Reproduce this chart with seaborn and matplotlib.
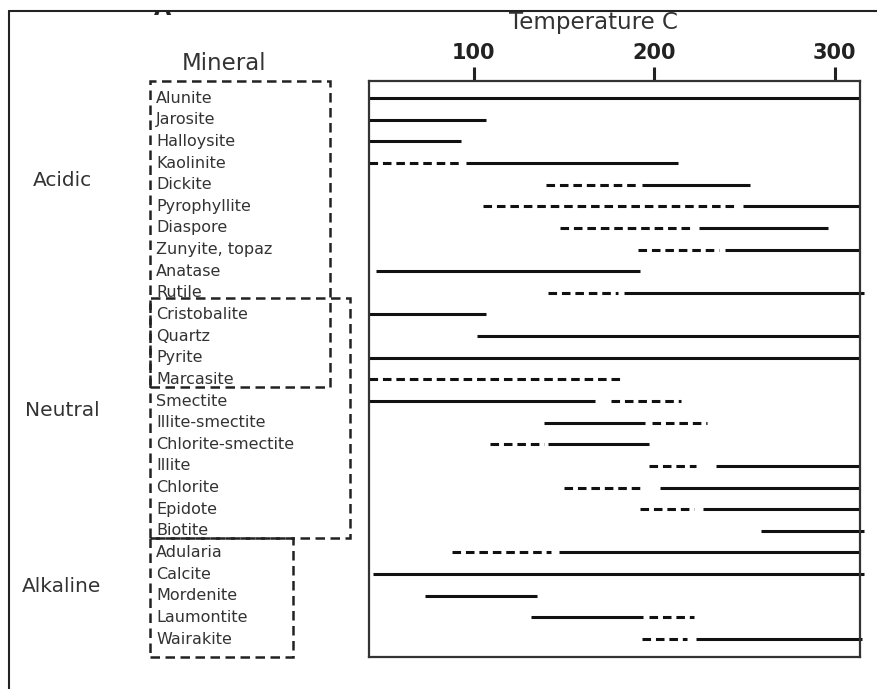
import matplotlib
matplotlib.use("Agg")
import matplotlib.pyplot as plt
import matplotlib.transforms as mtransforms
from matplotlib.patches import Rectangle
from matplotlib.lines import Line2D
import seaborn as sns
import pandas as pd

# ---------------- data ----------------
minerals = ["Alunite", "Jarosite", "Halloysite", "Kaolinite", "Dickite",
            "Pyrophyllite", "Diaspore", "Zunyite, topaz", "Anatase", "Rutile",
            "Cristobalite", "Quartz", "Pyrite", "Marcasite", "Smectite",
            "Illite-smectite", "Chlorite-smectite", "Illite", "Chlorite",
            "Epidote", "Biotite", "Adularia", "Calcite", "Mordenite",
            "Laumontite", "Wairakite"]

groups = ["Acidic", "Neutral", "Alkaline"]

seg_mineral = ["Alunite", "Jarosite", "Halloysite",
               "Kaolinite", "Kaolinite", "Dickite", "Dickite",
               "Pyrophyllite", "Pyrophyllite", "Diaspore", "Diaspore",
               "Zunyite, topaz", "Zunyite, topaz", "Anatase",
               "Rutile", "Rutile", "Cristobalite", "Quartz", "Pyrite",
               "Marcasite", "Smectite", "Smectite",
               "Illite-smectite", "Illite-smectite",
               "Chlorite-smectite", "Chlorite-smectite",
               "Illite", "Illite", "Chlorite", "Chlorite",
               "Epidote", "Epidote", "Biotite",
               "Adularia", "Adularia", "Calcite", "Mordenite",
               "Laumontite", "Laumontite", "Wairakite", "Wairakite"]
seg_low = [42, 42, 42,
           42, 96, 140, 193,
           105, 249, 148, 225,
           191, 239, 46,
           141, 183, 42, 102, 42,
           42, 42, 176,
           139, 199,
           109, 141,
           197, 234, 150, 203,
           192, 227, 259,
           88, 147, 44, 73,
           132, 197, 193, 223]
seg_high = [314, 107, 93,
            92, 213, 191, 253,
            244, 314, 222, 296,
            236, 314, 192,
            180, 316, 107, 314, 314,
            181, 167, 215,
            195, 229,
            139, 197,
            223, 314, 194, 314,
            222, 314, 316,
            143, 314, 316, 135,
            194, 222, 218, 315]
seg_style = ["solid", "solid", "solid",
             "dashed", "solid", "dashed", "solid",
             "dashed", "solid", "dashed", "solid",
             "dashed", "solid", "solid",
             "dashed", "solid", "solid", "solid", "solid",
             "dashed", "solid", "dashed",
             "solid", "dashed",
             "dashed", "solid",
             "dashed", "solid", "dashed", "solid",
             "dashed", "solid", "solid",
             "dashed", "solid", "solid", "solid",
             "solid", "dashed", "dashed", "solid"]

temp_ticks = [100, 200, 300]

# ---------------- long-form table ----------------
rows = []
for i, (m, lo, hi, st) in enumerate(zip(seg_mineral, seg_low, seg_high, seg_style)):
    r = minerals.index(m)
    rows.append({"seg": i, "temp": lo, "row": r, "kind": st})
    rows.append({"seg": i, "temp": hi, "row": r, "kind": st})
df = pd.DataFrame(rows)

# ---------------- figure ----------------
sns.set_style("white")
plt.rcParams["font.family"] = ["DejaVu Sans"]

W, H = 877, 689
fig = plt.figure(figsize=(W / 100, H / 100), dpi=100)

def fx(x):
    return x / W

def fy(y):
    return 1 - y / H

ax_l, ax_r, ax_t, ax_b = 369, 860, 81, 657
ax = fig.add_axes([fx(ax_l), fy(ax_b), (ax_r - ax_l) / W, (ax_b - ax_t) / H])

sns.lineplot(data=df, x="temp", y="row", units="seg", style="kind",
             estimator=None, sort=False, color="#111111", linewidth=2.2,
             dashes={"solid": "", "dashed": (2.8, 1.6)}, legend=False, ax=ax)
for ln in ax.lines:
    ln.set_clip_on(False)
    ln.set_solid_capstyle("butt")
    ln.set_dash_capstyle("butt")

ax.set_xlim(42, 314)
ax.set_ylim(25.83, -0.79)
ax.set_yticks([])
ax.set_xlabel("")
ax.set_ylabel("")
ax.xaxis.tick_top()
ax.set_xticks(temp_ticks)
ax.set_xticklabels([str(t) for t in temp_ticks], fontweight="bold",
                   fontsize=15, color="#222222")
ax.tick_params(axis="x", top=True, bottom=False, length=10, width=2.2,
               direction="out", pad=3, color="#222222")
for s in ax.spines.values():
    s.set_visible(True)
    s.set_color("#333333")
    s.set_linewidth(1.6)

# axis title
fig.text(fx(593), fy(22), "Temperature C", ha="center", va="center",
         fontsize=16.5, color="#333333")

# mineral labels
trans = mtransforms.blended_transform_factory(fig.transFigure, ax.transData)
for i, m in enumerate(minerals):
    ax.text(fx(156), i, m, transform=trans, ha="left", va="center",
            fontsize=11.5, color="#333333", clip_on=False)

fig.text(fx(224), fy(64), "Mineral", ha="center", va="center",
         fontsize=16.5, color="#333333")

group_y = [180, 410, 587]
for g, gy in zip(groups, group_y):
    fig.text(fx(62), fy(gy), g, ha="center", va="center", fontsize=14.5,
             color="#333333")

# dashed group boxes
boxes = [(150, 81, 330, 387), (150, 298, 350, 538), (150, 538, 293, 657)]
for x0, y0, x1, y1 in boxes:
    rect = Rectangle((fx(x0), fy(y1)), (x1 - x0) / W, (y1 - y0) / H,
                     transform=fig.transFigure, fill=False,
                     edgecolor="#222222", linewidth=1.8,
                     linestyle=(0, (3.8, 2.2)))
    fig.add_artist(rect)

# partially cropped panel letter (only its lower edge shows below the frame)
fig.text(fx(163), fy(15), "A", ha="center", va="baseline", fontsize=16,
         fontweight="bold", color="#222222", zorder=1)
fig.add_artist(Rectangle((0, fy(11)), 1, 11 / H, transform=fig.transFigure,
                         facecolor="white", edgecolor="none", zorder=5))

# outer frame (top and left edges)
fig.add_artist(Line2D([fx(9), fx(877)], [fy(11), fy(11)],
                      transform=fig.transFigure, color="#222222",
                      linewidth=1.5, zorder=6))
fig.add_artist(Line2D([fx(9), fx(9)], [fy(11), fy(689)],
                      transform=fig.transFigure, color="#222222",
                      linewidth=1.5, zorder=6))

fig.savefig("out.png", dpi=100)
